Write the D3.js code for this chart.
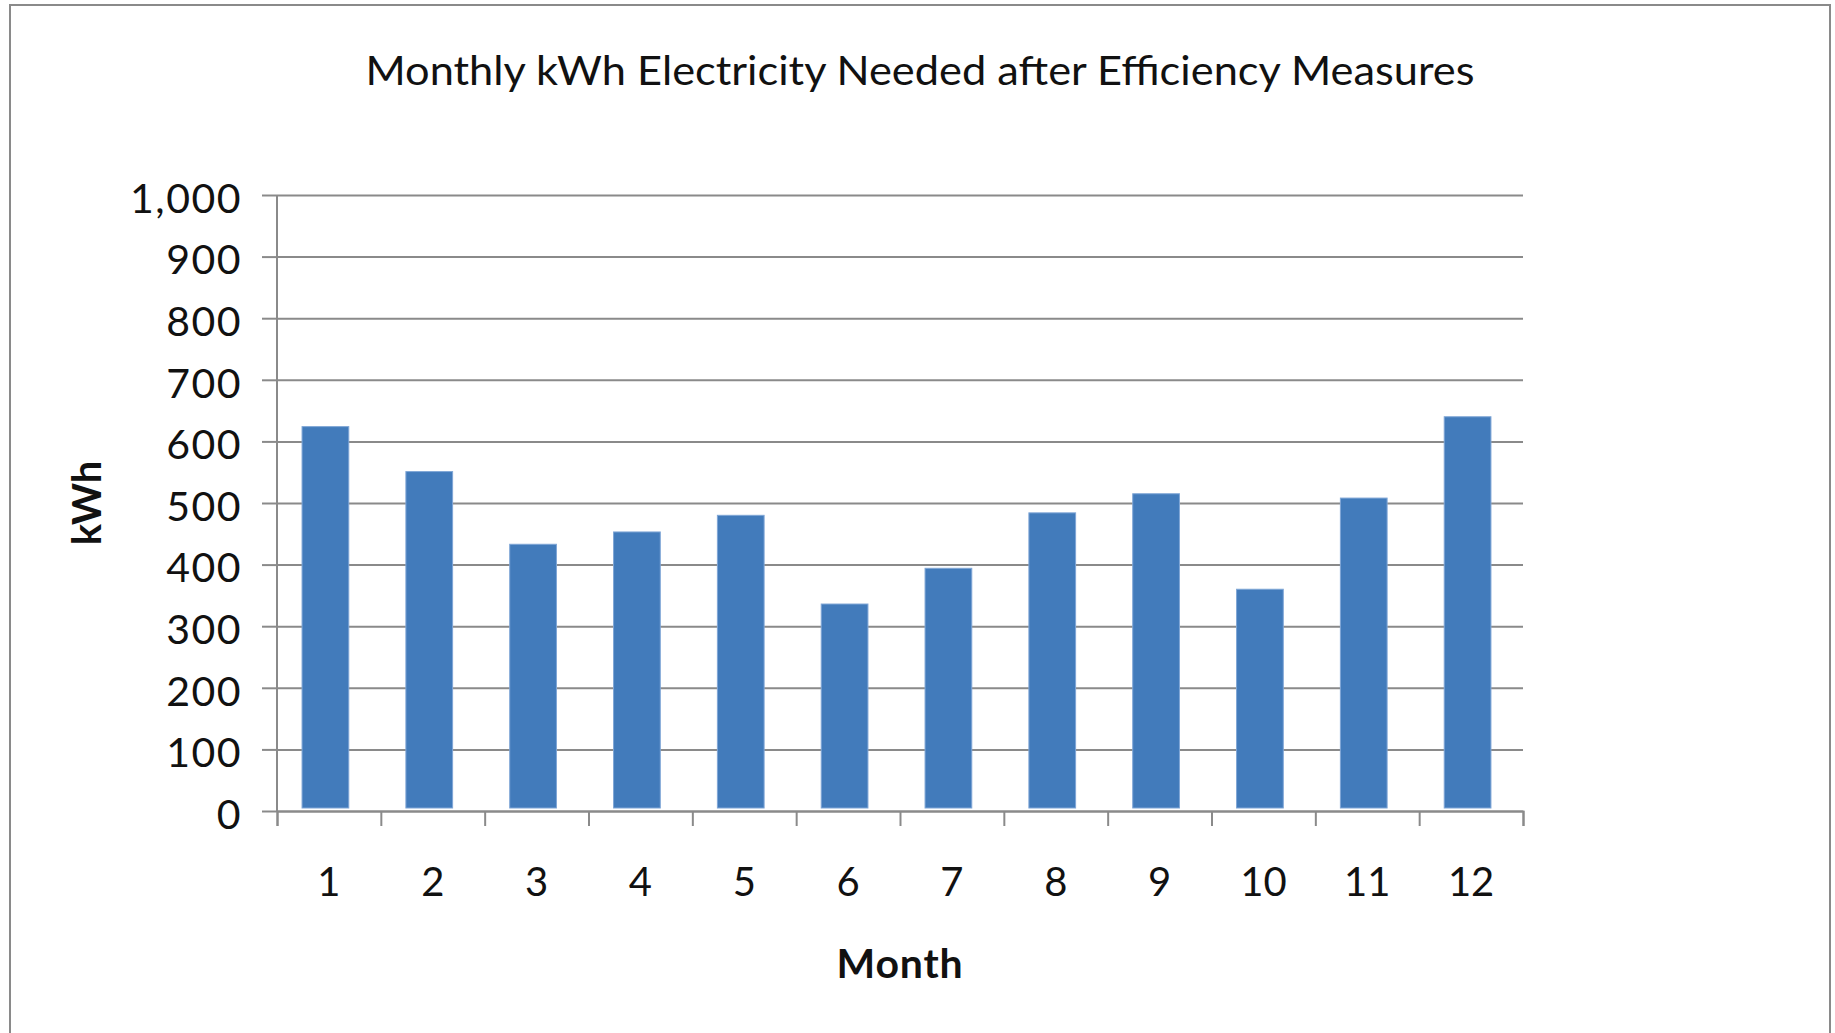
<!DOCTYPE html>
<html>
<head>
<meta charset="utf-8">
<script src="https://cdn.jsdelivr.net/npm/d3@7"></script>
<style>
  html, body { margin: 0; padding: 0; background: #fff; }
  svg { display: block; }
  text { font-family: Lato, "Open Sans", sans-serif; fill: #111; }
</style>
</head>
<body>
<svg id="chart" width="1835" height="1033"></svg>
<script>
const months = ["1","2","3","4","5","6","7","8","9","10","11","12"];
const kwh = [624, 551, 433, 453, 480, 336, 394, 484, 515, 360, 508, 640];
const yTicks = [0, 100, 200, 300, 400, 500, 600, 700, 800, 900, 1000];
const titleText = "Monthly kWh Electricity Needed after Efficiency Measures";
const xTitle = "Month";
const yTitle = "kWh";

const svg = d3.select("#chart");
const W = 1835, H = 1033;
const margin = {left: 277, right: 1835 - 1523, top: 195, bottom: 1033 - 811};
const iw = W - margin.left - margin.right;
const ih = H - margin.top - margin.bottom;

// outer border
svg.append("rect")
  .attr("x", 10).attr("y", 5)
  .attr("width", 1820).attr("height", 1060)
  .attr("fill", "none").attr("stroke", "#8a8a8a").attr("stroke-width", 2);

// title
svg.append("text")
  .attr("x", 920).attr("y", 85)
  .attr("text-anchor", "middle")
  .attr("font-size", 40)
  .attr("textLength", 1109)
  .attr("lengthAdjust", "spacingAndGlyphs")
  .text(titleText);

const g = svg.append("g").attr("transform", `translate(${margin.left},${margin.top})`);

const y = d3.scaleLinear().domain([0, 1000]).range([ih, 0]);
const x = d3.scaleBand().domain(months).range([0, iw]).paddingInner(0.55).paddingOuter(0.275);
const xEdge = d3.scaleLinear().domain([0, months.length]).range([0, iw]);

// y axis with gridlines
const yAxis = g.append("g")
  .call(d3.axisLeft(y).tickValues(yTicks).tickSize(15).tickPadding(20).tickFormat(d3.format(",")));
yAxis.select(".domain").remove();
yAxis.selectAll(".tick line").attr("stroke", "#8a8a8a").attr("stroke-width", 2);
yAxis.selectAll(".tick").append("line")
  .attr("x1", 0).attr("x2", iw)
  .attr("stroke", "#8a8a8a").attr("stroke-width", 2);
yAxis.selectAll(".tick text")
  .attr("font-size", 41)
  .attr("letter-spacing", 1.5)
  .attr("font-family", "Lato, 'Open Sans', sans-serif")
  .attr("fill", "#111")
  .attr("dy", "0.42em");

// bars
g.append("g")
  .attr("transform", "translate(-3.5,0)")
  .selectAll("rect.bar")
  .data(kwh)
  .join("rect")
  .attr("class", "bar")
  .attr("x", (d, i) => x(months[i]))
  .attr("width", x.bandwidth())
  .attr("y", d => y(d))
  .attr("height", d => y(0) - y(d) - 3)
  .attr("fill", "#427bbb")
  .attr("stroke", "#7fa6d6")
  .attr("stroke-width", 1);

// y axis line
g.append("line")
  .attr("x1", 0).attr("x2", 0).attr("y1", 0).attr("y2", ih)
  .attr("stroke", "#8a8a8a").attr("stroke-width", 2);

// x axis boundary ticks
const xTickAxis = g.append("g")
  .attr("transform", `translate(0,${ih})`)
  .call(d3.axisBottom(xEdge).tickValues(d3.range(0, months.length + 1)).tickSize(15).tickFormat(""));
xTickAxis.select(".domain").attr("stroke", "#8a8a8a").attr("stroke-width", 2);
xTickAxis.selectAll(".tick line").attr("stroke", "#8a8a8a").attr("stroke-width", 2);

// x labels
const xLab = g.append("g")
  .attr("transform", `translate(0,${ih})`)
  .call(d3.axisBottom(x).tickSize(0).tickPadding(0));
xLab.select(".domain").remove();
xLab.selectAll(".tick text")
  .attr("font-size", 40)
  .attr("font-family", "Lato, 'Open Sans', sans-serif")
  .attr("fill", "#111")
  .attr("y", 85).attr("dy", 0);

// axis titles
svg.append("text")
  .attr("x", margin.left + iw / 2).attr("y", 978)
  .attr("text-anchor", "middle")
  .attr("font-size", 41).attr("font-weight", "bold")
  .attr("letter-spacing", 0.8)
  .text(xTitle);

svg.append("text")
  .attr("transform", `translate(101,${margin.top + ih / 2}) rotate(-90)`)
  .attr("text-anchor", "middle")
  .attr("font-size", 40).attr("font-weight", "bold")
  .text(yTitle);
</script>
</body>
</html>
